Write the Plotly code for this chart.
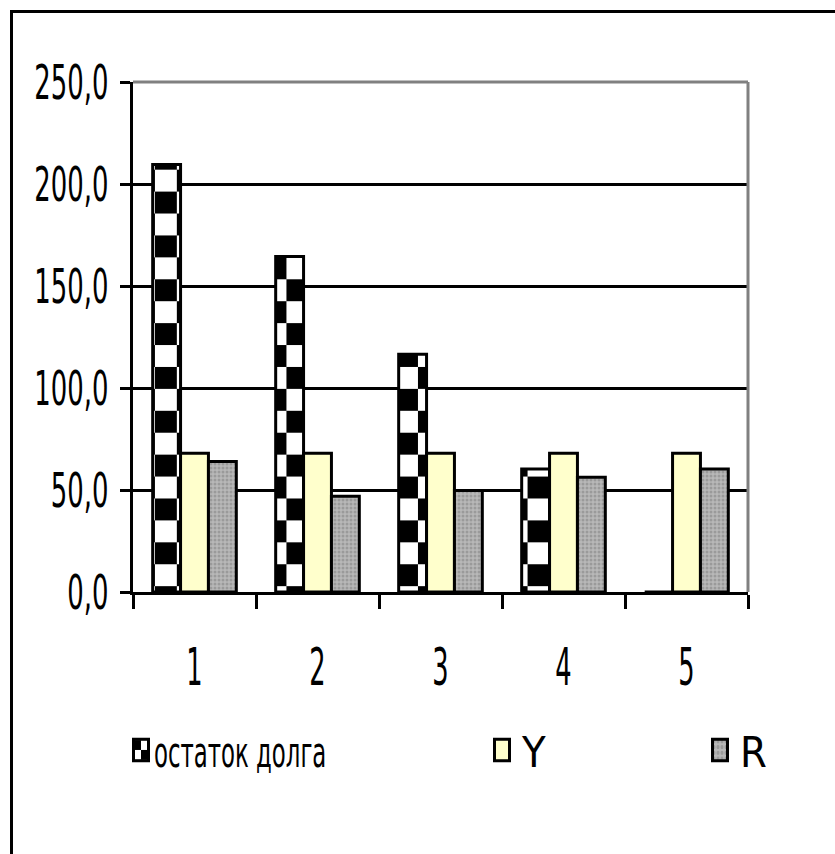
import plotly.graph_objects as go

# ---- data ----
categories = ["1", "2", "3", "4", "5"]
debt_left = [209.5, 164.5, 116.5, 60.3, 0.0]
y_values = [68.0, 68.0, 68.0, 68.0, 68.0]
r_values = [64.0, 46.9, 49.7, 56.3, 60.3]
y_ticks = [0, 50, 100, 150, 200, 250]
series_names = ["остаток долга", "Y", "R"]

W, H = 835, 854
PLOT_L, PLOT_R, PLOT_T, PLOT_B = 133, 748, 82, 592
FONT = "Liberation Sans Narrow, DejaVu Sans Condensed, DejaVu Sans, sans-serif"


def px_x(px):
    return (px - PLOT_L) / (PLOT_R - PLOT_L)


def px_y(py):
    return (PLOT_B - py) / (PLOT_B - PLOT_T)


fig = go.Figure()

fig.add_trace(go.Bar(
    x=categories, y=debt_left, name=series_names[0], uid="debt",
    legend="legend",
    marker=dict(color="#ffffff",
                line=dict(color="#000000", width=3),
                pattern=dict(shape="/", size=31, solidity=0.5,
                             fgcolor="#000000", bgcolor="#ffffff")),
))
fig.add_trace(go.Bar(
    x=categories, y=y_values, name=series_names[1], uid="yser",
    legend="legend2",
    marker=dict(color="#ffffcc", line=dict(color="#000000", width=3)),
))
fig.add_trace(go.Bar(
    x=categories, y=r_values, name=series_names[2], uid="rser",
    legend="legend3",
    marker=dict(color="#a8a8a8",
                line=dict(color="#000000", width=3),
                pattern=dict(shape=".", size=4, solidity=0.45,
                             fgcolor="#7c7c7c", bgcolor="#b8b8b8")),
))

legend_common = dict(orientation="h", yanchor="middle", y=px_y(750),
                     xanchor="left", bgcolor="rgba(0,0,0,0)",
                     font=dict(family=FONT, size=43, color="#000000"),
                     itemwidth=30, itemclick=False)

fig.update_layout(
    width=W, height=H,
    margin=dict(l=PLOT_L, r=W - PLOT_R, t=PLOT_T, b=H - PLOT_B, pad=0),
    paper_bgcolor="#ffffff", plot_bgcolor="#ffffff",
    separators=", ",
    barmode="group", bargap=0.32, bargroupgap=0,
    showlegend=True,
    legend=dict(x=px_x(121), **legend_common),
    legend2=dict(x=px_x(482), **legend_common),
    legend3=dict(x=px_x(700), **legend_common),
    font=dict(family=FONT, color="#000000"),
    xaxis=dict(
        type="category", tickson="boundaries", automargin=False,
        showline=True, linecolor="#000000", linewidth=3,
        ticks="outside", ticklen=14, tickwidth=3, tickcolor="#000000",
        showgrid=False, tickfont=dict(family=FONT, size=52),
        ticklabelstandoff=28,
    ),
    yaxis=dict(
        range=[0, 250], tickvals=y_ticks, tickformat=".1f", automargin=False,
        showline=True, linecolor="#000000", linewidth=3,
        ticks="outside", ticklen=10, tickwidth=3, tickcolor="#000000",
        showgrid=True, gridcolor="#000000", gridwidth=3,
        zeroline=False, tickfont=dict(family=FONT, size=48),
        ticklabelstandoff=2,
    ),
    shapes=[
        # gray frame on the top and right of the plot area
        dict(type="line", xref="paper", yref="paper", x0=0, x1=1, y0=1, y1=1,
             line=dict(color="#808080", width=3), layer="above"),
        dict(type="line", xref="paper", yref="paper", x0=1, x1=1, y0=0, y1=1,
             line=dict(color="#808080", width=3), layer="above"),
        # outer chart border
        dict(type="rect", xref="paper", yref="paper",
             x0=px_x(11.5), x1=px_x(860), y0=px_y(880), y1=px_y(11.5),
             line=dict(color="#000000", width=3), layer="below"),
    ],
)

# Checkerboard fill for the debt series, condensed label text and
# taller legend swatches.
post_js = """
var gd = document.getElementById('{plot_id}');
var ns = 'http://www.w3.org/2000/svg';
function checker() {
  gd.querySelectorAll('pattern[id*="debt"]').forEach(function(p) {
    if (p.getAttribute('data-checker')) return;
    var w = parseFloat(p.getAttribute('width'));
    var h = parseFloat(p.getAttribute('height'));
    while (p.firstChild) p.removeChild(p.firstChild);
    var bg = document.createElementNS(ns, 'rect');
    bg.setAttribute('width', w); bg.setAttribute('height', h);
    bg.setAttribute('fill', '#ffffff');
    p.appendChild(bg);
    var hw = w / 2, hh = h / 2;
    var sq = document.createElementNS(ns, 'path');
    sq.setAttribute('d', 'M0,0H' + hw + 'V' + hh + 'H0Z M' + hw + ',' + hh +
                    'H' + w + 'V' + h + 'H' + hw + 'Z');
    sq.setAttribute('fill', '#000000');
    p.appendChild(sq);
    p.setAttribute('data-checker', '1');
  });
}
function squeezeText(t, s, dx) {
  var tr = t.getAttribute('transform') || '';
  if (tr.indexOf('scale(') >= 0) return;
  var x0 = parseFloat(t.getAttribute('x')) || 0;
  t.setAttribute('transform', tr + ' translate(' + (x0 + dx) + ',0) scale(' + s +
                 ',1) translate(' + (-x0) + ',0)');
}
function restyleText() {
  gd.querySelectorAll('.xtick text').forEach(function(t) {
    squeezeText(t, 0.55, 0);
  });
  gd.querySelectorAll('.ytick text').forEach(function(t) {
    squeezeText(t, 0.6, 0);
  });
  gd.querySelectorAll('.legendtext').forEach(function(t) {
    squeezeText(t, 0.59, -7);
  });
  gd.querySelectorAll('.legendpoints path').forEach(function(p) {
    var tr = p.getAttribute('transform') || '';
    if (tr.indexOf('scale(') >= 0) return;
    p.setAttribute('transform', tr + ' scale(1.25,1.8)');
    p.style.vectorEffect = 'non-scaling-stroke';
  });
}
function finish() { checker(); restyleText(); }
finish();
gd.on('plotly_afterplot', finish);
"""

fig.write_html("out.html", post_script=post_js)
